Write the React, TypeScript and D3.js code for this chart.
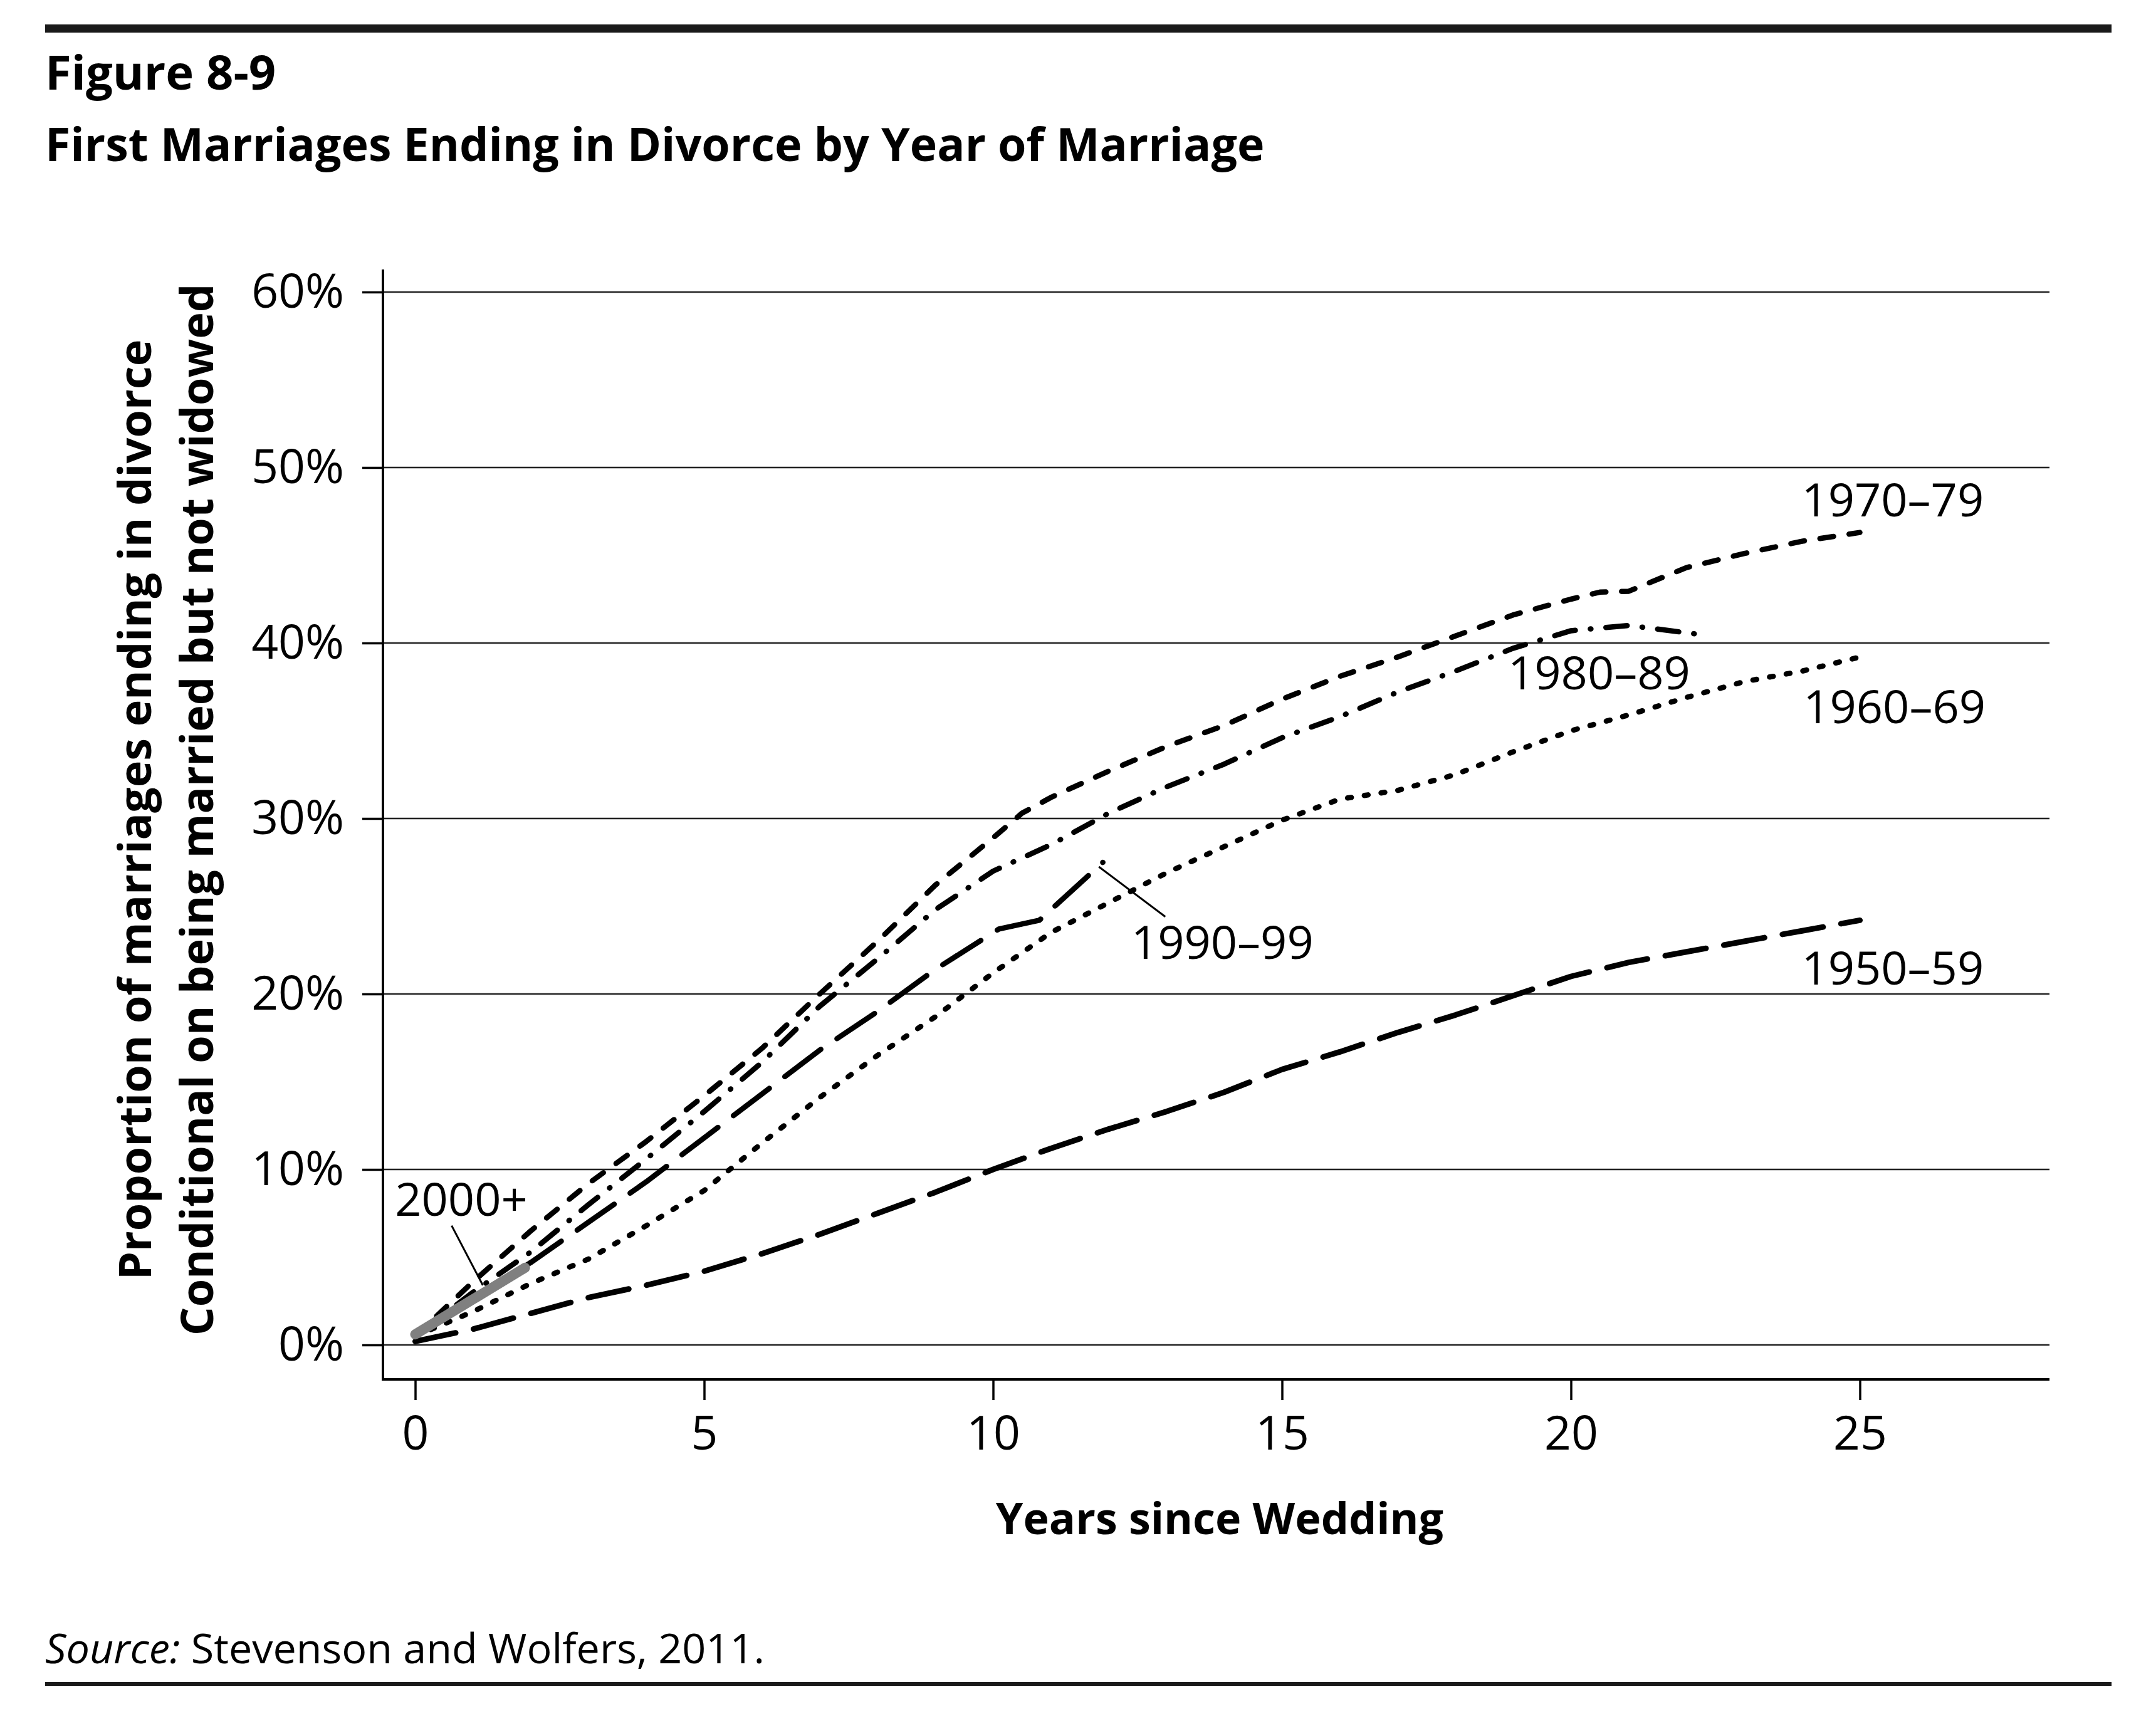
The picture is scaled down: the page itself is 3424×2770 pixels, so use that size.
import { useEffect, useRef } from "react";
import * as d3 from "d3";

type Pt = [number, number];

// years since wedding -> % of first marriages ended in divorce
const S1950: Pt[] = [
  [0, 0.2], [1, 0.9], [2, 1.8], [3, 2.7], [4, 3.4], [5, 4.2], [6, 5.2], [7, 6.3], [8, 7.5],
  [9, 8.7], [10, 10.0], [11, 11.2], [12, 12.3], [13, 13.3], [14, 14.4], [15, 15.7], [16, 16.7],
  [17, 17.8], [18, 18.8], [19, 19.9], [20, 21.0], [21, 21.8], [22, 22.4], [23, 23.0], [24, 23.6], [25, 24.2],
];
const S1960: Pt[] = [
  [0, 0.5], [1, 1.9], [2, 3.5], [3, 4.9], [4, 6.8], [5, 8.8], [6, 11.5], [7, 14.1], [8, 16.5],
  [9, 18.7], [10, 21.2], [11, 23.5], [12, 25.2], [13, 26.9], [14, 28.4], [15, 29.9], [16, 31.1],
  [17, 31.6], [18, 32.5], [19, 33.8], [20, 35.0], [21, 35.9], [22, 36.9], [23, 37.8], [24, 38.4], [25, 39.2],
];
const S1970: Pt[] = [
  [0, 0.5], [1, 3.6], [2, 6.5], [3, 9.2], [4, 11.6], [5, 14.2], [6, 16.9], [7, 20.0], [8, 23.0],
  [9, 26.2], [10, 28.9], [10.5, 30.3], [11, 31.2], [12, 32.7], [13, 34.1], [14, 35.3], [15, 36.8],
  [16, 38.1], [17, 39.2], [18, 40.4], [19, 41.6], [20, 42.5], [20.5, 42.9], [21, 42.95], [22, 44.3],
  [23, 45.1], [24, 45.8], [25, 46.3],
];
const S1980: Pt[] = [
  [0, 0.5], [1, 3.0], [2, 5.3], [3, 8.0], [4, 10.6], [5, 13.3], [6, 16.1], [7, 19.3], [8, 22.0],
  [9, 24.8], [10, 27.0], [11, 28.5], [12, 30.3], [13, 31.8], [14, 33.1], [15, 34.6], [16, 35.8],
  [17, 37.2], [18, 38.4], [19, 39.7], [20, 40.7], [21, 41.0], [22.2, 40.5],
];
const S1990: Pt[] = [
  [0, 0.5], [1, 2.6], [2, 4.7], [3, 7.0], [4, 9.3], [5, 11.8], [6, 14.3], [7, 16.8], [8, 19.0],
  [9, 21.4], [10.1, 23.7], [10.8, 24.2], [11.9, 27.5],
];
const S2000: Pt[] = [[0, 0.6], [1, 2.6], [1.9, 4.4]];

const X_TICKS = [0, 5, 10, 15, 20, 25];
const Y_TICKS = [0, 10, 20, 30, 40, 50, 60];

// label anchors in data units
const LABELS: { text: string; at: Pt }[] = [
  { text: "1970–79", at: [23.99, 47.2] },
  { text: "1980–89", at: [18.91, 37.34] },
  { text: "1960–69", at: [24.02, 35.43] },
  { text: "1990–99", at: [12.39, 22.0] },
  { text: "1950–59", at: [23.99, 20.55] },
  { text: "2000+", at: [-0.35, 7.36] },
];
const LEADERS: Pt[][] = [
  [[0.63, 6.8], [1.17, 3.4]],
  [[11.83, 27.25], [12.98, 24.4]],
];

const FONT = "'Open Sans', 'Noto Sans', sans-serif";

export default function App() {
  const ref = useRef<SVGSVGElement | null>(null);

  useEffect(() => {
    if (!ref.current) return;
    const W = 3424, H = 2770;
    const svg = d3.select(ref.current);
    svg.selectAll("*").remove();
    svg.attr("viewBox", `0 0 ${W} ${H}`);

    const left = 611, right = 3270, top = 430, bottom = 2201;
    const x = d3.scaleLinear().domain([0, 25]).range([662.5, 2967.5]);
    const y = d3.scaleLinear().domain([0, 60]).range([2146, 466]);

    // rules
    svg.append("rect").attr("x", 72).attr("y", 39).attr("width", 3297).attr("height", 13).attr("fill", "#1a1a1a");
    svg.append("rect").attr("x", 72).attr("y", 2684).attr("width", 3297).attr("height", 6).attr("fill", "#1a1a1a");

    svg.append("text").attr("x", 72).attr("y", 143).attr("font-family", FONT).attr("font-weight", 700)
      .attr("font-size", 76).attr("fill", "#000").text("Figure 8-9");
    svg.append("text").attr("x", 72).attr("y", 257).attr("font-family", FONT).attr("font-weight", 700)
      .attr("font-size", 73.5).attr("fill", "#000").text("First Marriages Ending in Divorce by Year of Marriage");

    // gridlines
    svg.append("g").selectAll("line").data(Y_TICKS).join("line")
      .attr("x1", left).attr("x2", right).attr("y1", (d) => y(d)).attr("y2", (d) => y(d))
      .attr("stroke", "#222").attr("stroke-width", 2.3);

    const yAxis = svg.append("g").attr("transform", `translate(${left},0)`)
      .call(d3.axisLeft(y).tickValues(Y_TICKS).tickSize(33).tickPadding(29).tickFormat((d) => `${d}%`));
    yAxis.select(".domain").remove();
    yAxis.selectAll(".tick line").attr("stroke", "#000").attr("stroke-width", 3.5);
    yAxis.selectAll(".tick text").attr("font-family", FONT).attr("font-size", 75).attr("fill", "#000");

    const xAxis = svg.append("g").attr("transform", `translate(0,${bottom})`)
      .call(d3.axisBottom(x).tickValues(X_TICKS).tickSize(33).tickPadding(26).tickFormat((d) => String(d)));
    xAxis.select(".domain").remove();
    xAxis.selectAll(".tick line").attr("stroke", "#000").attr("stroke-width", 3.5);
    xAxis.selectAll(".tick text").attr("font-family", FONT).attr("font-size", 75).attr("fill", "#000");

    svg.append("path").attr("d", `M${left},${top}V${bottom}H${right}`)
      .attr("fill", "none").attr("stroke", "#000").attr("stroke-width", 4);

    const line = d3.line<Pt>().x((d) => x(d[0])).y((d) => y(d[1])).curve(d3.curveLinear);

    const series = [
      { data: S1950, dash: "66,29", width: 9 },
      { data: S1960, dash: "6,21", width: 8.5 },
      { data: S1990, dash: "72,31", width: 8.5 },
      { data: S1980, dash: "34,24,1,24", width: 8.5 },
      { data: S1970, dash: "22,25", width: 8.5 },
    ];
    series.forEach((s) => {
      svg.append("path").datum(s.data).attr("d", line)
        .attr("fill", "none").attr("stroke", "#000").attr("stroke-width", s.width)
        .attr("stroke-dasharray", s.dash).attr("stroke-linecap", "round").attr("stroke-linejoin", "round");
    });

    svg.append("path").datum(S2000).attr("d", line)
      .attr("fill", "none").attr("stroke", "#808080").attr("stroke-width", 16)
      .attr("stroke-linecap", "round");

    LEADERS.forEach((l) => {
      svg.append("path").datum(l).attr("d", line)
        .attr("fill", "none").attr("stroke", "#000").attr("stroke-width", 3);
    });

    LABELS.forEach((l) => {
      svg.append("text").attr("x", x(l.at[0])).attr("y", y(l.at[1]))
        .attr("font-family", FONT).attr("font-size", 74).attr("fill", "#000").text(l.text);
    });

    // axis titles
    svg.append("text").attr("x", 1946).attr("y", 2448).attr("text-anchor", "middle")
      .attr("font-family", FONT).attr("font-weight", 700).attr("font-size", 70).attr("fill", "#000")
      .text("Years since Wedding");

    const yt = [
      { text: "Proportion of marriages ending in divorce", x: 241 },
      { text: "Conditional on being married but not widowed", x: 340 },
    ];
    yt.forEach((t) => {
      svg.append("text").attr("transform", `translate(${t.x},1292) rotate(-90)`)
        .attr("text-anchor", "middle").attr("font-family", FONT).attr("font-weight", 700)
        .attr("font-size", 72).attr("fill", "#000").text(t.text);
    });

    const src = svg.append("text").attr("x", 72).attr("y", 2654)
      .attr("font-family", FONT).attr("font-size", 66.5).attr("fill", "#000");
    src.append("tspan").attr("font-style", "italic").text("Source:");
    src.append("tspan").text(" Stevenson and Wolfers, 2011.");
  }, []);

  return (
    <svg
      ref={ref}
      width={3424}
      height={2770}
      style={{ position: "absolute", left: 0, top: 0, display: "block", background: "#fff" }}
    />
  );
}
